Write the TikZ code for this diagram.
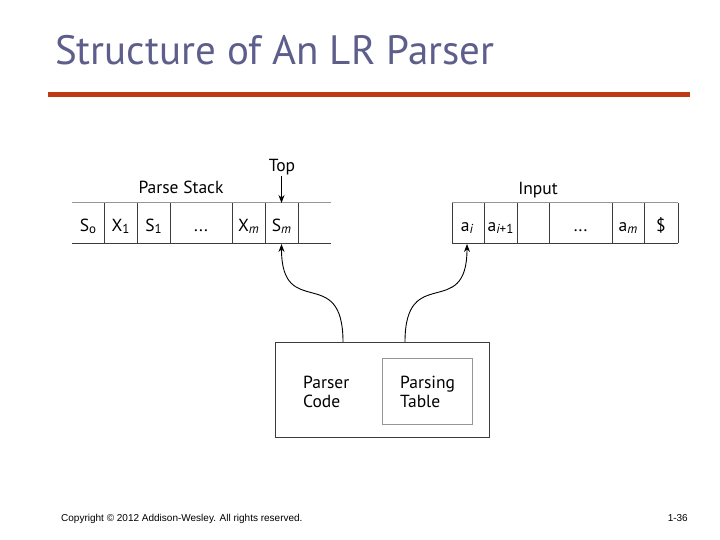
\documentclass[tikz,border=0pt]{standalone}
\usepackage{fontspec}
\setmainfont{PT Sans}
\newfontfamily\footfont{Liberation Sans}
\usetikzlibrary{arrows.meta}
\definecolor{titleblue}{RGB}{94,94,140}
\definecolor{rulered}{RGB}{190,58,20}
\definecolor{linegray}{RGB}{60,60,60}
\definecolor{lightline}{RGB}{150,150,150}
\newcommand{\sbs}[1]{\raisebox{-2.5pt}{\fontsize{13}{13}\selectfont #1}}
\tikzset{
  cell/.style={inner sep=0pt, anchor=base, font=\fontsize{17.5}{20}\selectfont},
  lbl/.style={inner sep=0pt, anchor=base, font=\fontsize{17.5}{20}\selectfont},
  gridline/.style={draw=linegray, line width=1pt},
  topline/.style={draw=lightline, line width=1pt},
  ptr/.style={draw=black, line width=0.9pt, -{Stealth[length=8pt,width=6pt]}},
  outerbox/.style={draw=linegray, line width=1pt, minimum width=214pt, minimum height=95pt, inner sep=0pt},
  innerbox/.style={draw=lightline, line width=1pt, minimum width=90pt, minimum height=66pt, inner sep=0pt},
  boxtxt/.style={inner sep=0pt, anchor=west, align=left, font=\fontsize{17.5}{19}\selectfont},
}
\begin{document}
\begin{tikzpicture}[x=1pt,y=-1pt]
\useasboundingbox[fill=white] (0,0) rectangle (720,540);
% title
\node[inner sep=0pt, anchor=base west, text=titleblue, font=\fontsize{41}{46}\selectfont] (title) at (55,65) {Structure of An LR Parser};
\draw[rulered, line width=5pt] (48,95) -- (690,95);
% parse stack
\draw[topline] (72,203) -- (331,203);
\draw[gridline] (72,243) -- (331,243);
\foreach \x in {104,137,170,232,265,298} \draw[gridline] (\x,203) -- (\x,243);
\node[cell] (s0) at (88,231) {S\sbs{o}};
\node[cell] (x1) at (120.5,231) {X\sbs{1}};
\node[cell] (s1) at (153.5,231) {S\sbs{1}};
\node[cell] (sd) at (201,231) {...};
\node[cell] (xm) at (248.5,231) {X\sbs{\itshape m}};
\node[cell] (sm) at (281.5,231) {S\sbs{\itshape m}};
\node[lbl] (ps) at (181,194) {Parse Stack};
\node[lbl] (top) at (282,172) {Top};
\coordinate (toppt) at (281.5,203);
\draw[ptr] (281.5,176) -- (toppt);
% input
\draw[topline] (452,203) -- (678,203);
\draw[gridline] (452,243) -- (678,243);
\foreach \x in {452,484,517,549,612,644,678} \draw[gridline] (\x,203) -- (\x,243);
\node[cell] (ai) at (467,231) {a\sbs{\itshape i}};
\node[cell] (ai1) at (500.5,231) {a\sbs{\itshape i\upshape +1}};
\node[cell] (id) at (580.5,231) {...};
\node[cell] (am) at (628,231) {a\sbs{\itshape m}};
\node[cell] (dol) at (661,231) {\$};
\node[lbl] (inp) at (538,195) {Input};
% parser box
\node[outerbox] (box) at (382,389.5) {};
\node[innerbox] (tab) at (427,391) {};
\node[boxtxt] (code) at (303,392) {Parser\\Code};
\node[boxtxt] (ptab) at (400,392) {Parsing\\Table};
\coordinate (sptr) at (281.5,244);
\coordinate (iptr) at (467,244);
\coordinate (b1) at (343,342);
\coordinate (b2) at (405,342);
\draw[ptr] (b1) .. controls (343,262) and (281.5,322) .. (sptr);
\draw[ptr] (b2) .. controls (405,262) and (467,322) .. (iptr);
% footer
\node[inner sep=0pt, anchor=base west, font=\footfont\fontsize{10}{12}\selectfont] (copy) at (61,521) {Copyright © 2012 Addison-Wesley. All rights reserved.};
\node[inner sep=0pt, anchor=base east, font=\footfont\fontsize{10}{12}\selectfont] (page) at (688,521) {1-36};
\end{tikzpicture}
\end{document}
